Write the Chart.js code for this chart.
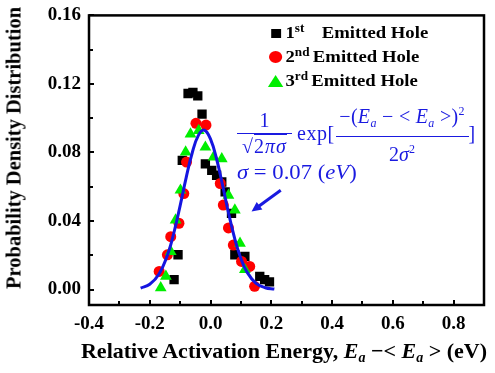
<!DOCTYPE html>
<html>
<head>
<meta charset="utf-8">
<script src="https://cdn.jsdelivr.net/npm/chart.js@4.4.1/dist/chart.umd.min.js"></script>
<style>
  html, body { margin: 0; padding: 0; background: #fff; overflow: hidden; }
  #wrap { position: relative; width: 495px; height: 373px; font-family: 'Liberation Serif', serif; overflow: hidden; }
  canvas { position: absolute; left: 0; top: -4px; }
  .ytitle { position: absolute; left: 14px; top: 148px; transform: translate(-50%, -50%) rotate(-90deg);
    white-space: nowrap; font-weight: bold; font-size: 20.5px; }
  .xtitle { position: absolute; left: 284px; top: 352px; transform: translate(-50%, -50%);
    white-space: nowrap; font-weight: bold; font-size: 22px; }
  .xtitle sub { font-size: 14px; vertical-align: -4px; }
  .legend { position: absolute; left: 269px; top: 21px; font-weight: bold; font-size: 17px; line-height: 24px;
    transform: scaleX(1.1); transform-origin: left top; }
  .legend div { display: flex; align-items: center; white-space: nowrap; }
  .legend sup { font-size: 12px; line-height: 0; position: relative; top: -5px; margin-right: 3px; }
  .mk { display: inline-block; width: 13px; margin-right: 2px; position: relative; height: 12px; }
  .sq { position: absolute; left: 2px; top: 2px; width: 9px; height: 9px; background: #000; }
  .ci { position: absolute; left: 0px; top: 0px; width: 12px; height: 12px; border-radius: 50%; background: #ff0000; }
  .tr { position: absolute; left: -1px; top: 0; width: 0; height: 0; border-left: 7px solid transparent;
    border-right: 7px solid transparent; border-bottom: 12px solid #00ee00; }
  .formula { position: absolute; left: 237px; top: 100px; color: #1a1ae0; font-size: 20px; display: flex; align-items: center; white-space: nowrap; }
  .frac { display: inline-flex; flex-direction: column; align-items: center; }
  .frac .num { align-self: stretch; text-align: center; padding-bottom: 2px; border-bottom: 1px solid #1a1ae0; line-height: 22px; }
  .frac .den { line-height: 24px; }
  .f1 { width: 55px; }
  .f1 .den { letter-spacing: 1px; }
  .f2 { width: 133px; }
  .f2 .num { letter-spacing: 0.3px; }
  .ex { margin: 0 1px 0 5px; letter-spacing: 0.5px; }
  .rt { border-top: 1px solid #1a1ae0; }
  .formula sub { font-size: 12px; vertical-align: -4px; }
  .formula sup { font-size: 12px; vertical-align: 8px; }
  .sigma { position: absolute; left: 237px; top: 160px; color: #1a1ae0; font-size: 21px; white-space: nowrap;
    transform: scaleX(1.08); transform-origin: left top; }
</style>
</head>
<body>
<div id="wrap">
  <canvas id="c" width="495" height="377"></canvas>
  <div class="ytitle">Probability Density Distribution</div>
  <div class="xtitle">Relative Activation Energy, <i>E<sub>a</sub></i> &minus;&lt; <i>E<sub>a</sub></i> &gt; (eV)</div>
  <div class="legend">
    <div><span class="mk"><span class="sq"></span></span>1<sup>st</sup>&nbsp;&nbsp; Emitted Hole</div>
    <div><span class="mk"><span class="ci"></span></span>2<sup>nd</sup>Emitted Hole</div>
    <div><span class="mk"><span class="tr"></span></span>3<sup>rd</sup>Emitted Hole</div>
  </div>
  <div class="formula">
    <span class="frac f1"><span class="num">1</span><span class="den">&radic;<span class="rt">2<i>&pi;&sigma;</i></span></span></span>
    <span class="ex">exp[</span>
    <span class="frac f2"><span class="num">&minus;(<i>E<sub>a</sub></i> &minus; &lt; <i>E<sub>a</sub></i> &gt;)<sup>2</sup></span><span class="den">2<i>&sigma;</i><sup>2</sup></span></span>
    <span>]</span>
  </div>
  <div class="sigma"><i>&sigma;</i> = 0.07 (<i>eV</i>)</div>
</div>
<script>
// tick labels
const xTicks = [-0.4, -0.2, 0.0, 0.2, 0.4, 0.6, 0.8];
const yTicks = [0.00, 0.04, 0.08, 0.12, 0.16];

// 1st emitted hole (black squares)
const hole1X = [-0.074, -0.058, -0.042, -0.028, -0.093, -0.017, 0.004, 0.020, 0.037, 0.048, 0.069, -0.107, -0.120, 0.080, 0.113, 0.162, 0.178, 0.194];
const hole1Y = [0.1144, 0.1150, 0.1130, 0.1024, 0.0754, 0.0734, 0.0696, 0.0667, 0.0628, 0.0570, 0.0445, 0.0203, 0.0058, 0.0203, 0.0193, 0.0077, 0.0058, 0.0045];

// 2nd emitted hole (red circles)
const hole2X = [-0.048, -0.015, -0.079, -0.088, -0.104, -0.131, -0.142, -0.169, 0.032, 0.042, 0.059, 0.075, 0.102, 0.129, 0.145];
const hole2Y = [0.0970, 0.0960, 0.0744, 0.0560, 0.0387, 0.0309, 0.0203, 0.0106, 0.0619, 0.0493, 0.0360, 0.0260, 0.0164, 0.0135, 0.0019];

// 3rd emitted hole (green triangles)
const hole3X = [-0.066, -0.082, -0.099, -0.115, -0.131, -0.147, -0.164, -0.039, -0.017, 0.010, 0.037, 0.059, 0.080, 0.097, 0.113];
const hole3Y = [0.0908, 0.0802, 0.0580, 0.0406, 0.0222, 0.0077, 0.0010, 0.0928, 0.0831, 0.0773, 0.0763, 0.0550, 0.0464, 0.0270, 0.0116];

// fitted gaussian curve
const fitX = [-0.23, -0.20, -0.17, -0.14, -0.12, -0.10, -0.08, -0.06, -0.04, -0.02, 0.00, 0.02, 0.04, 0.06, 0.08, 0.10, 0.12, 0.15, 0.18, 0.21];
const fitY = [0.0009, 0.0031, 0.0089, 0.0211, 0.0336, 0.0490, 0.0655, 0.0800, 0.0900, 0.0930, 0.0878, 0.0762, 0.0606, 0.0441, 0.0295, 0.0181, 0.0102, 0.0036, 0.0011, 0.0003];

// arrow annotation (data units)
const arrowFrom = [0.231, 0.058];
const arrowTo = [0.135, 0.0455];

const pts = (xs, ys) => xs.map((x, i) => ({ x, y: ys[i] }));

const framePlugin = {
  id: 'frame',
  afterDraw(chart) {
    const { ctx, chartArea: a, scales: { x, y } } = chart;
    ctx.save();
    ctx.strokeStyle = '#000';
    ctx.lineWidth = 2.5;
    ctx.strokeRect(a.left, a.top, a.right - a.left, a.bottom - a.top);
    ctx.lineWidth = 2;
    ctx.beginPath();
    // inward ticks, major + minor
    for (let i = 0; i < xTicks.length; i++) {
      const px = Math.round(x.getPixelForValue(xTicks[i]));
      ctx.moveTo(px, a.bottom); ctx.lineTo(px, a.bottom - 5);
      const mx = Math.round(x.getPixelForValue(xTicks[i] + 0.1));
      ctx.moveTo(mx, a.bottom); ctx.lineTo(mx, a.bottom - 4);
    }
    for (let i = 0; i < yTicks.length; i++) {
      const py = Math.round(y.getPixelForValue(yTicks[i]));
      ctx.moveTo(a.left, py); ctx.lineTo(a.left + 5, py);
      if (i < yTicks.length - 1) {
        const my = Math.round(y.getPixelForValue(yTicks[i] + 0.02));
        ctx.moveTo(a.left, my); ctx.lineTo(a.left + 4, my);
      }
    }
    ctx.stroke();

    // arrow
    const x0 = x.getPixelForValue(arrowFrom[0]), y0 = y.getPixelForValue(arrowFrom[1]);
    const x1 = x.getPixelForValue(arrowTo[0]), y1 = y.getPixelForValue(arrowTo[1]);
    const ang = Math.atan2(y1 - y0, x1 - x0);
    ctx.strokeStyle = '#1a1ae0';
    ctx.fillStyle = '#1a1ae0';
    ctx.lineWidth = 3;
    ctx.beginPath();
    ctx.moveTo(x0, y0);
    ctx.lineTo(x1 - 6 * Math.cos(ang), y1 - 6 * Math.sin(ang));
    ctx.stroke();
    ctx.beginPath();
    ctx.moveTo(x1, y1);
    ctx.lineTo(x1 - 11 * Math.cos(ang - 0.45), y1 - 11 * Math.sin(ang - 0.45));
    ctx.lineTo(x1 - 11 * Math.cos(ang + 0.45), y1 - 11 * Math.sin(ang + 0.45));
    ctx.closePath();
    ctx.fill();
    ctx.restore();
  }
};

const tickFont = { family: 'Liberation Serif', size: 19, weight: 'bold' };

new Chart(document.getElementById('c'), {
  type: 'scatter',
  data: {
    datasets: [
      { label: 'fit', data: pts(fitX, fitY), showLine: true, pointRadius: 0, borderColor: '#1515e0', borderWidth: 3, tension: 0.4, order: 0 },
      { label: '1st Emitted Hole', data: pts(hole1X, hole1Y), pointStyle: 'rect', pointRadius: 6.6, backgroundColor: '#000', borderWidth: 0, order: 3 },
      { label: '2nd Emitted Hole', data: pts(hole2X, hole2Y), pointStyle: 'circle', pointRadius: 5.5, backgroundColor: '#ff0000', borderWidth: 0, order: 2 },
      { label: '3rd Emitted Hole', data: pts(hole3X, hole3Y), pointStyle: 'triangle', pointRadius: 6.8, backgroundColor: '#00ee00', borderWidth: 0, order: 1 }
    ]
  },
  options: {
    responsive: false,
    animation: false,
    layout: { padding: { left: 0, top: 10, right: 11, bottom: 0 } },
    plugins: { legend: { display: false }, tooltip: { enabled: false } },
    scales: {
      x: {
        type: 'linear', min: -0.4, max: 0.9,
        grid: { display: false, drawTicks: false },
        border: { display: false },
        afterBuildTicks: s => { s.ticks = xTicks.map(v => ({ value: v })); },
        afterFit: s => { s.height = 68; },
        ticks: { font: tickFont, color: '#000', padding: 8, maxRotation: 0, callback: v => v.toFixed(1) }
      },
      y: {
        type: 'linear', min: -0.009, max: 0.16,
        grid: { display: false, drawTicks: false },
        border: { display: false },
        afterBuildTicks: s => { s.ticks = yTicks.map(v => ({ value: v })); },
        afterFit: s => { s.width = 89; },
        ticks: { font: tickFont, color: '#000', padding: 8, callback: v => v.toFixed(2) }
      }
    }
  },
  plugins: [framePlugin]
});
</script>
</body>
</html>
